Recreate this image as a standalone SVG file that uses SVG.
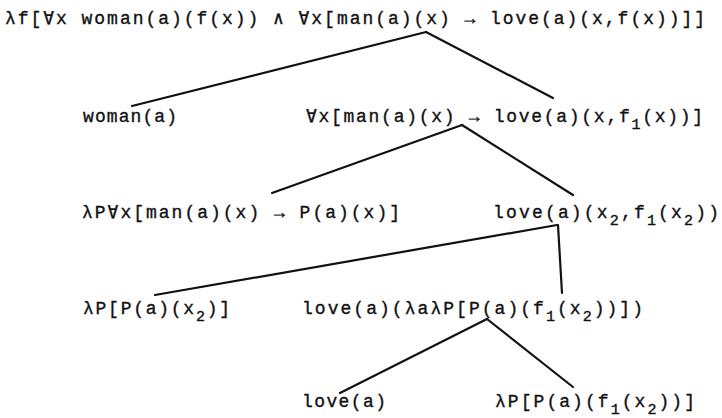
<svg xmlns="http://www.w3.org/2000/svg" width="722" height="418" viewBox="0 0 722 418">
<style>
text{font-family:"Liberation Mono","DejaVu Sans Mono",monospace;font-size:18px;fill:#111;stroke:#111;stroke-width:0.35}
.s{font-size:15px}
.c line{stroke:#111;stroke-width:2.2;stroke-linecap:round}
</style>
<rect width="722" height="418" fill="#fff"/>
<g class="c" id="connectors">
<line x1="426" y1="32" x2="132" y2="106"/>
<line x1="426" y1="32" x2="553" y2="98"/>
<line x1="462" y1="125" x2="272" y2="193"/>
<line x1="462" y1="125" x2="573" y2="195"/>
<line x1="557" y1="225" x2="155" y2="295"/>
<line x1="558" y1="225" x2="562" y2="293"/>
<line x1="487" y1="319" x2="340" y2="393"/>
<line x1="487" y1="319" x2="573" y2="387"/>
</g>
<g id="n1"><text x="5" y="24" textLength="700" lengthAdjust="spacing">λf[∀x woman(a)(f(x)) ∧ ∀x[man(a)(x) → love(a)(x,f(x))]]</text></g>
<g id="n2"><text x="83" y="122" textLength="94" lengthAdjust="spacing">woman(a)</text></g>
<g id="n3"><text x="306" y="122" textLength="397" lengthAdjust="spacing">∀x[man(a)(x) → love(a)(x,f<tspan class="s" dy="7">1</tspan><tspan dy="-7">(x))]</tspan></text></g>
<g id="n4"><text x="82" y="218" textLength="318" lengthAdjust="spacing">λP∀x[man(a)(x) → P(a)(x)]</text></g>
<g id="n5"><text x="493" y="218" textLength="226" lengthAdjust="spacing">love(a)(x<tspan class="s" dy="7">2</tspan><tspan dy="-7">,f</tspan><tspan class="s" dy="7">1</tspan><tspan dy="-7">(x</tspan><tspan class="s" dy="7">2</tspan><tspan dy="-7">))</tspan></text></g>
<g id="n6"><text x="83" y="314" textLength="147" lengthAdjust="spacing">λP[P(a)(x<tspan class="s" dy="7">2</tspan><tspan dy="-7">)]</tspan></text></g>
<g id="n7"><text x="302" y="314" textLength="341" lengthAdjust="spacing">love(a)(λaλP[P(a)(f<tspan class="s" dy="7">1</tspan><tspan dy="-7">(x</tspan><tspan class="s" dy="7">2</tspan><tspan dy="-7">))])</tspan></text></g>
<g id="n8"><text x="302" y="407" textLength="84" lengthAdjust="spacing">love(a)</text></g>
<g id="n9"><text x="495" y="407" textLength="200" lengthAdjust="spacing">λP[P(a)(f<tspan class="s" dy="7">1</tspan><tspan dy="-7">(x</tspan><tspan class="s" dy="7">2</tspan><tspan dy="-7">))]</tspan></text></g>
</svg>
